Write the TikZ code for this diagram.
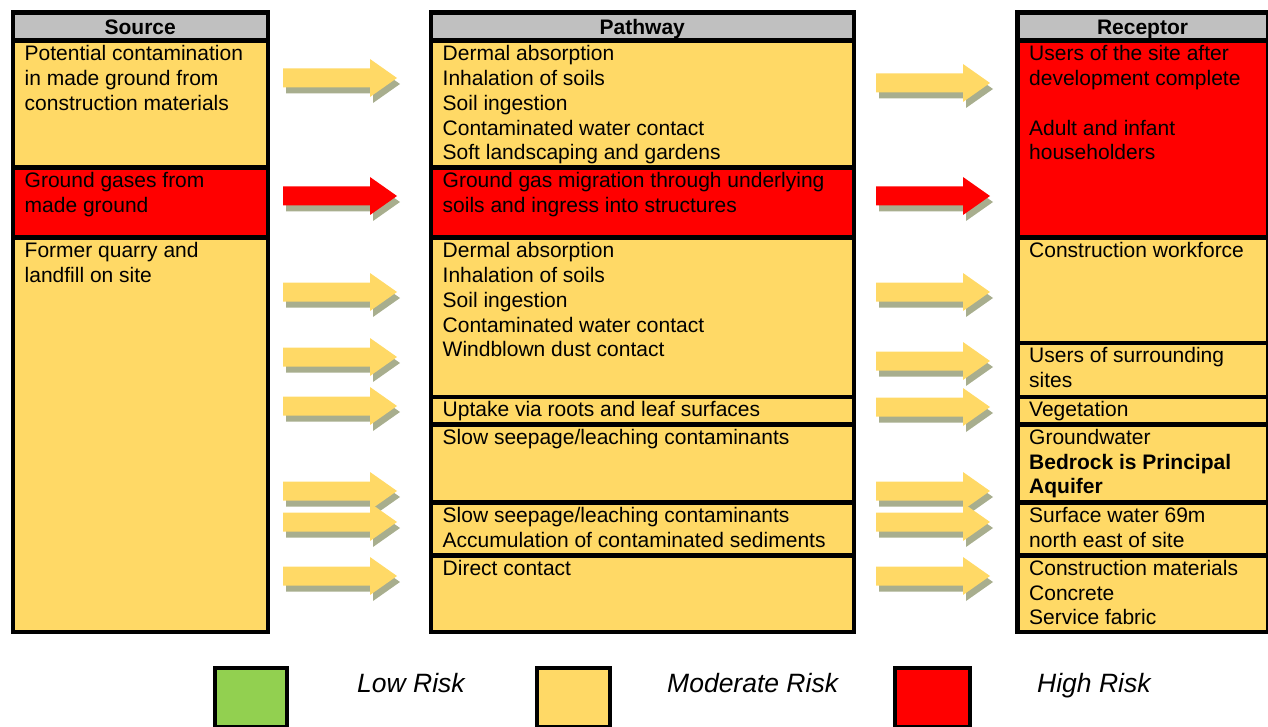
\documentclass[tikz,border=0pt]{standalone}
\usepackage{fontspec}
\setmainfont{Liberation Sans}
\definecolor{cellyel}{HTML}{FFD966}
\definecolor{hdrgray}{HTML}{C0C0C0}
\definecolor{riskred}{HTML}{FF0000}
\definecolor{lowgreen}{HTML}{92D050}
\definecolor{arrshadow}{HTML}{A8AE8E}
\newcommand\mkcell[6]{% name, x1, y1, x2, y2, fill
  \node[cellbox, fill=#6, minimum width={#4pt-#2pt}, minimum height={#5pt-#3pt}] (#1) at (#2,#3) {};}
\newcommand\celltxt[2]{% name, text
  \node[celltext] (#1t) at ([shift={(14,6)}]#1.north west) {\rule{0pt}{16pt}#2};}
\newcommand\riskarrow[3]{% x, y centre, colour
  \begin{scope}[shift={(#1+3,#2+6)}]
    \fill[arrshadow] (0,-9.5) -- (87,-9.5) -- (87,-19) -- (114,0) -- (87,19) -- (87,9.5) -- (0,9.5) -- cycle;
  \end{scope}
  \begin{scope}[shift={(#1,#2)}]
    \fill[#3] (0,-9.5) -- (87,-9.5) -- (87,-19) -- (114,0) -- (87,19) -- (87,9.5) -- (0,9.5) -- cycle;
  \end{scope}}
\begin{document}
\begin{tikzpicture}[x=1pt,y=-1pt,
  cellbox/.style={draw=black, line width=4.5pt, inner sep=0pt, anchor=north west},
  celltext/.style={anchor=north west, inner sep=0pt, align=left, font=\fontsize{21}{24.8}\selectfont},
  hdrtext/.style={font=\fontsize{21}{24.8}\selectfont\bfseries, anchor=base, inner sep=0pt},
  legtext/.style={font=\fontsize{26.5}{30}\selectfont\itshape, anchor=base west, inner sep=0pt},
]
\useasboundingbox (0,0) rectangle (1268,727);

% ---------- Source column ----------
\mkcell{sh}{10.5}{10.5}{265.5}{38.5}{hdrgray}
\mkcell{s1}{10.5}{38.5}{265.5}{165.5}{cellyel}
\mkcell{s2}{10.5}{165.5}{265.5}{235.5}{riskred}
\mkcell{s3}{10.5}{235.5}{265.5}{629.5}{cellyel}
\node[hdrtext] (sht) at ([yshift=-7.5pt]sh.center) {Source};
\celltxt{s1}{Potential contamination\\in made ground from\\construction materials}
\celltxt{s2}{Ground gases from\\made ground}
\celltxt{s3}{Former quarry and\\landfill on site}

% ---------- Pathway column ----------
\mkcell{ph}{428.5}{10.5}{851.5}{38.5}{hdrgray}
\mkcell{p1}{428.5}{38.5}{851.5}{165.5}{cellyel}
\mkcell{p2}{428.5}{165.5}{851.5}{235.5}{riskred}
\mkcell{p3}{428.5}{235.5}{851.5}{394.5}{cellyel}
\mkcell{p4}{428.5}{394.5}{851.5}{422}{cellyel}
\mkcell{p5}{428.5}{422}{851.5}{500}{cellyel}
\mkcell{p6}{428.5}{500}{851.5}{553}{cellyel}
\mkcell{p7}{428.5}{553}{851.5}{629.5}{cellyel}
\node[hdrtext] (pht) at ([yshift=-7.5pt]ph.center) {Pathway};
\celltxt{p1}{Dermal absorption\\Inhalation of soils\\Soil ingestion\\Contaminated water contact\\Soft landscaping and gardens}
\celltxt{p2}{Ground gas migration through underlying\\soils and ingress into structures}
\celltxt{p3}{Dermal absorption\\Inhalation of soils\\Soil ingestion\\Contaminated water contact\\Windblown dust contact}
\celltxt{p4}{Uptake via roots and leaf surfaces}
\celltxt{p5}{Slow seepage/leaching contaminants}
\celltxt{p6}{Slow seepage/leaching contaminants\\Accumulation of contaminated sediments}
\celltxt{p7}{Direct contact}

% ---------- Receptor column ----------
\mkcell{rh}{1015}{10.5}{1265.5}{38.5}{hdrgray}
\mkcell{r1}{1015}{38.5}{1265.5}{235.5}{riskred}
\mkcell{r2}{1015}{235.5}{1265.5}{340.5}{cellyel}
\mkcell{r3}{1015}{340.5}{1265.5}{394.5}{cellyel}
\mkcell{r4}{1015}{394.5}{1265.5}{422}{cellyel}
\mkcell{r5}{1015}{422}{1265.5}{500}{cellyel}
\mkcell{r6}{1015}{500}{1265.5}{553}{cellyel}
\mkcell{r7}{1015}{553}{1265.5}{629.5}{cellyel}
\node[hdrtext] (rht) at ([yshift=-7.5pt]rh.center) {Receptor};
\celltxt{r1}{Users of the site after\\development complete\\[24.8pt]Adult and infant\\householders}
\celltxt{r2}{Construction workforce}
\celltxt{r3}{Users of surrounding\\sites}
\celltxt{r4}{Vegetation}
\celltxt{r5}{Groundwater\\\textbf{Bedrock is Principal}\\\textbf{Aquifer}}
\celltxt{r6}{Surface water 69m\\north east of site}
\celltxt{r7}{Construction materials\\Concrete\\Service fabric}

% ---------- Arrows source -> pathway ----------
\riskarrow{283}{78}{cellyel}
\riskarrow{283}{196}{riskred}
\riskarrow{283}{292}{cellyel}
\riskarrow{283}{357}{cellyel}
\riskarrow{283}{406}{cellyel}
\riskarrow{283}{491}{cellyel}
\riskarrow{283}{522}{cellyel}
\riskarrow{283}{576}{cellyel}

% ---------- Arrows pathway -> receptor ----------
\riskarrow{876}{83}{cellyel}
\riskarrow{876}{196}{riskred}
\riskarrow{876}{292}{cellyel}
\riskarrow{876}{361}{cellyel}
\riskarrow{876}{407}{cellyel}
\riskarrow{876}{491}{cellyel}
\riskarrow{876}{522}{cellyel}
\riskarrow{876}{576}{cellyel}

% ---------- Legend ----------
\mkcell{lg}{212.5}{665.5}{284.5}{724.5}{lowgreen}
\mkcell{lm}{534.5}{665.5}{607.5}{724.5}{cellyel}
\mkcell{lh}{892.5}{665.5}{967.5}{724.5}{riskred}
\node[legtext] (lgt) at (357,692) {Low Risk};
\node[legtext] (lmt) at (667,692) {Moderate Risk};
\node[legtext] (lht) at (1037,692) {High Risk};
\end{tikzpicture}
\end{document}
